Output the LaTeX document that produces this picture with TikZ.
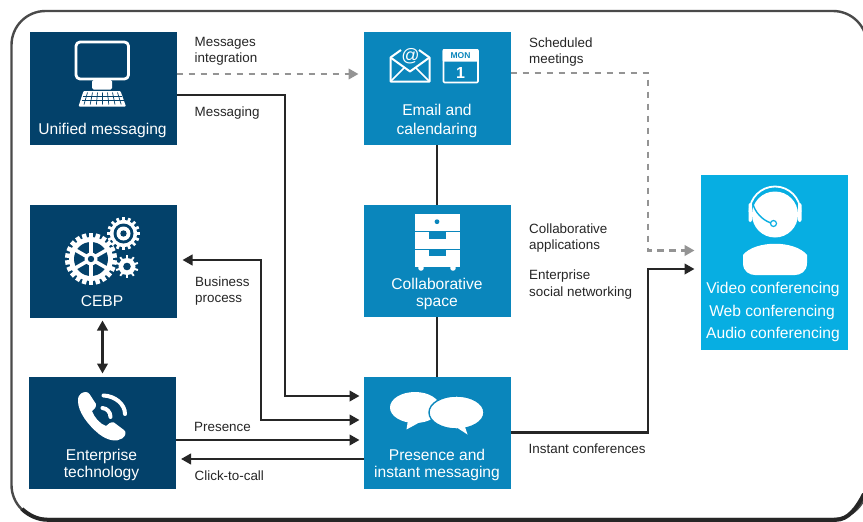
\documentclass[tikz,border=0pt]{standalone}
\usepackage{fontspec}
\setmainfont{Liberation Sans}
\usetikzlibrary{arrows.meta,calc}
\definecolor{navy}{HTML}{03416A}
\definecolor{midblue}{HTML}{0A86BC}
\definecolor{skyblue}{HTML}{07AEE2}
\definecolor{ink}{HTML}{262626}
\definecolor{dashgray}{HTML}{949494}
\definecolor{framecol}{HTML}{4A4A4A}
\tikzset{
  box/.style={minimum width=147pt,minimum height=113pt,inner sep=0pt,outer sep=0pt,draw=none},
  navybox/.style={box,fill=navy},
  bluebox/.style={box,fill=midblue},
  boxtext/.style={text=white,font=\fontsize{15.6}{18.5}\selectfont,align=center,inner sep=0pt},
  boxtight/.style={boxtext,font=\fontsize{15.6}{16.5}\selectfont},
  lab/.style={text=ink,font=\fontsize{13.4}{16.5}\selectfont,align=left,anchor=west,inner sep=0pt},
  link/.style={draw=ink,line width=2.6pt},
  arrowlink/.style={link,-{Triangle[length=10pt,width=10.5pt]}},
  dualarrow/.style={link,{Triangle[length=10pt,width=10.5pt]}-{Triangle[length=10pt,width=10.5pt]}},
  dashlink/.style={draw=dashgray,line width=2.5pt,dash pattern=on 6.5pt off 5.5pt,-{Triangle[length=10pt,width=10.5pt]}},
  iconline/.style={draw=white,line width=2pt,line join=round}
}
\newcommand{\gearicon}[6]{% cx cy outer inner teeth hole
  \foreach \k in {1,...,#5}{
    \fill[white,rotate around={\k*360/#5:(#1,#2)}] (#1-#3*0.085,#2-#3) rectangle (#1+#3*0.085,#2-#4+1);
  }
  \fill[white] (#1,#2) circle[radius=#4];
  \fill[navy] (#1,#2) circle[radius=#6];
}
\begin{document}
\begin{tikzpicture}[x=1pt,y=-1pt]
\useasboundingbox (0,0) rectangle (863,522);
\fill[white] (0,0) rectangle (863,522);
% frame
\draw[framecol,line width=2.4pt,rounded corners=34pt] (11.5,11) -- (11.5,519) -- (867,519) -- (867,11) -- cycle;
\draw[black!85,line width=4pt] (22,509) .. controls (29,515.5) and (38,519.8) .. (48,519.8) -- (836,519.8) .. controls (848,519.8) and (857,508) .. (864,494);
% boxes
\node[navybox,anchor=north west] (um) at (29.5,32) {};
\node[navybox,anchor=north west] (cebp) at (29.5,204.5) {};
\node[navybox,anchor=north west,minimum height=112.5pt] (et) at (29.2,376.7) {};
\node[bluebox,anchor=north west] (em) at (363.5,32) {};
\node[bluebox,anchor=north west,minimum height=112.5pt] (cs) at (363.5,204.5) {};
\node[bluebox,anchor=north west,minimum height=112.5pt] (pi) at (363.5,376.7) {};
\node[box,fill=skyblue,anchor=north west,minimum height=175.5pt] (vc) at (701,174.5) {};
% box labels
\node[boxtext] (umt) at (102.5,130.5) {Unified messaging};
\node[boxtext] (emt) at (437,121) {Email and\\calendaring};
\node[boxtext] (cebpt) at (102,301.5) {CEBP};
\node[boxtight] (ett) at (101.5,465) {Enterprise\\technology};
\node[boxtight] (cst) at (437,294) {Collaborative\\space};
\node[boxtight] (pit) at (437,465) {Presence and\\instant messaging};
\node[boxtext] (vct1) at (773,289) {Video conferencing};
\node[boxtext] (vct2) at (772,312) {Web conferencing};
\node[boxtext] (vct3) at (773,334) {Audio conferencing};
% free ends
\coordinate (a1s) at (um.east |- 0,74);
\coordinate (a1e) at (358.5,74);
\coordinate (a2s) at (em.east |- 0,73);
\coordinate (a2e) at (694.5,250.5);
\coordinate (a3s) at (um.east |- 0,95);
\coordinate (a3e) at (359.5,396);
\coordinate (a4s) at (182.5,260);
\coordinate (a4e) at (359.5,420);
\coordinate (a5s) at (et.east |- 0,440);
\coordinate (a5e) at (359.5,440);
\coordinate (a6s) at (pi.west |- 0,459);
\coordinate (a6e) at (181,459);
\coordinate (a7s) at (pi.east |- 0,432.5);
\coordinate (a7e) at (694.5,269);
\coordinate (a8s) at (102.5,320.5);
\coordinate (a8e) at (102.5,373.5);
% connectors
\draw[dashlink] (a1s) -- (a1e);
\draw[dashlink] (a2s) -- (648,73) -- (648,250.5) -- (a2e);
\draw[arrowlink] (a3s) -- (285,95) -- (285,396) -- (a3e);
\draw[dualarrow] (a4s) -- (261,260) -- (261,420) -- (a4e);
\draw[arrowlink] (a5s) -- (a5e);
\draw[arrowlink] (a6s) -- (a6e);
\draw[arrowlink] (a7s) -- (648,432.5) -- (648,269) -- (a7e);
\draw[dualarrow] (a8s) -- (a8e);
\draw[link] (em.south) -- (cs.north);
\draw[link] (cs.south) -- (pi.north);
% link labels
\node[lab] (l1) at (194.5,51.5) {Messages\\integration};
\node[lab] (l2) at (194.5,113) {Messaging};
\node[lab] (l3) at (529,52) {Scheduled\\meetings};
\node[lab] (l4) at (529,238) {Collaborative\\applications};
\node[lab] (l5) at (529,284.5) {Enterprise\\social networking};
\node[lab] (l6) at (195,291) {Business\\process};
\node[lab] (l7) at (194,427) {Presence};
\node[lab] (l8) at (194.5,476) {Click-to-call};
\node[lab] (l9) at (528.5,449) {Instant conferences};
% monitor
\draw[iconline,line width=2.8pt,rounded corners=4pt] (76,42) rectangle (128.5,79);
\fill[white,rounded corners=1.5pt] (92,80) rectangle (112,89.5);
\fill[white,rounded corners=1pt] (83.5,91) -- (120.5,91) -- (126,106.5) -- (78.5,106.5) -- cycle;
\foreach \t in {0,1,2,3,4,5,6}{
  \draw[navy,line width=.7pt] ({87.5+\t*5},92.5) -- ({84+\t*6.2},104.5);
}
\draw[navy,line width=.7pt] (83,96) -- (122,96) (81.5,100) -- (123.5,100);
% envelope
\draw[iconline] (401,50) -- (390.5,57.5) -- (390.5,81.5) -- (429.5,81.5) -- (429.5,57.5) -- (419,50);
\draw[iconline] (390.5,57.5) -- (410,71.5) -- (429.5,57.5);
\draw[iconline,line width=1.6pt] (390.5,81.5) -- (404,68) (429.5,81.5) -- (416,68);
\node[text=white,font=\fontsize{18}{18}\selectfont,inner sep=0pt] (at) at (410.5,56) {@};
% calendar
\draw[iconline,line width=1.6pt,rounded corners=1pt] (443.5,50) rectangle (478,82.5);
\fill[white,rounded corners=1pt] (442.7,49) rectangle (478.7,61.5);
\node[text=midblue,font=\fontsize{8.5}{8.5}\selectfont\bfseries,inner sep=0pt] (mon) at (460.5,55.5) {MON};
\node[text=white,font=\fontsize{16}{16}\selectfont\bfseries,inner sep=0pt] (one) at (460.5,72.5) {1};
% gears
\gearicon{91}{259}{26}{22}{22}{17}
\foreach \k in {0,60,120,180,240,300}{
  \draw[white,line width=3.6pt] (91,259) -- ++(\k+30:18);
}
\fill[white] (91,259) circle[radius=6.5];
\fill[navy] (91,259) circle[radius=3.2];
\gearicon{123.5}{233.5}{16.5}{13.5}{16}{10}
\fill[white] (123.5,233.5) circle[radius=7];
\fill[navy] (123.5,233.5) circle[radius=3.2];
\gearicon{127}{266.5}{11.5}{8.5}{10}{3.8}
% phone
\fill[white] (81,393.5) .. controls (84,391.5) and (88,391.5) .. (89.5,394) -- (96,404) .. controls (96.5,407) and (94,410) .. (92,411)
  .. controls (94,417) and (100,424) .. (106,426) .. controls (108,424) and (111,421.5) .. (114,422.5)
  -- (124,430) .. controls (126.5,432) and (126,436) .. (122,438.5) .. controls (117,442) and (108,441) .. (99,434)
  .. controls (88,425) and (78,412) .. (78,401) .. controls (78,397) and (79,395) .. (81,393.5) -- cycle;
\draw[white,line width=4pt,line cap=round] (103.5,395.5) .. controls (115,396) and (125,404) .. (125,414);
\draw[white,line width=4pt,line cap=round] (102.5,408) .. controls (107,408.5) and (110.5,412) .. (110.5,417);
% headset person
\fill[white] (775,214.5) circle[radius=23];
\draw[white,line width=1.8pt] (749.5,212) arc[start angle=180,end angle=360,radius=25.5];
\fill[white,rounded corners=2pt] (748.5,203) rectangle (752,222);
\fill[white,rounded corners=2pt] (798,203) rectangle (801.5,222);
\draw[skyblue,line width=1.4pt] (753,204) .. controls (755,212) and (762,220) .. (771,223);
\draw[skyblue,line width=1.2pt,fill=white] (773.5,223.5) circle[radius=3];
\fill[white] (743,255) .. controls (755,240) and (795,240) .. (807,255) -- (807,263) .. controls (807,272) and (800,275) .. (795,275) -- (755,275) .. controls (750,275) and (743,272) .. (743,263) -- cycle;
% cabinet
\fill[white] (415,214) rectangle (459.7,231.2);
\fill[white] (415,232.2) rectangle (459.7,248.8);
\fill[white] (415,249.8) rectangle (459.7,266.5);
\fill[midblue] (429,231) rectangle (445.7,238.5);
\fill[midblue] (429,249.5) rectangle (445.7,256);
\fill[midblue] (437,221.7) circle[radius=2.4];
\fill[white] (421,268) circle[radius=2.8];
\fill[white] (453,268) circle[radius=2.8];
% bubbles
\fill[white] (415,407.5) ellipse[x radius=25,y radius=15.5];
\fill[white] (408,420) -- (406.5,429.5) -- (422,421) -- cycle;
\fill[white,draw=midblue,line width=1.4pt] (456.5,412.5) ellipse[x radius=27.5,y radius=16.5];
\fill[white] (456,427) -- (467.5,434.5) -- (464,424) -- cycle;
\end{tikzpicture}
\end{document}
